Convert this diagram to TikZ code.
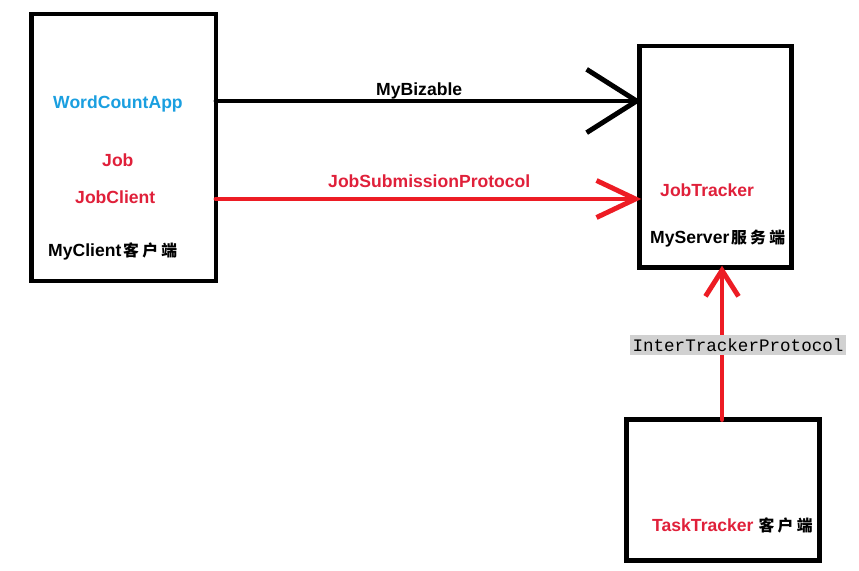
\documentclass[tikz,border=0pt]{standalone}
\usepackage{fontspec}
\setmainfont{Liberation Sans}
\setmonofont{Liberation Mono}
\newfontfamily\cjk{Noto Sans CJK SC}
\usepackage{tikz}
\usetikzlibrary{arrows.meta,calc}
\usepackage{xcolor}
\definecolor{appblue}{HTML}{1A9FE0}
\definecolor{txtred}{HTML}{E0203A}
\definecolor{arrred}{HTML}{ED1C24}
\newcommand{\kehu}{{\cjk\fontsize{13.5}{16}\selectfont 客\hspace{1mm}户\hspace{1mm}端}}
\newcommand{\fuwu}{{\cjk\fontsize{13.5}{16}\selectfont 服\hspace{1mm}务\hspace{1mm}端}}

\begin{document}
\begin{tikzpicture}[x=0.03cm, y=-0.03cm,
  box/.style={draw, line width=4.2pt, inner sep=0pt, outer sep=0pt},
  lbl/.style={font=\fontsize{15}{18}\selectfont\bfseries, inner sep=0pt, anchor=base west},
  link/.style={line width=4.2pt, line cap=round, shorten >=-1.5pt}]
  \useasboundingbox[fill=white] (0,0) rectangle (859,571);
  % the three boxes
  \node[box, minimum width=5.535cm, minimum height=8.01cm] (client) at (123.75,147.5) {};
  \node[box, minimum width=4.56cm, minimum height=6.645cm] (server) at (715.5,156.75) {};
  \node[box, minimum width=5.79cm, minimum height=4.23cm] (task) at (723,490) {};
  % texts
  \node[lbl, text=appblue] (wca) at (53,109) {WordCountApp};
  \node[lbl, text=txtred] (job) at (102,167) {Job};
  \node[lbl, text=txtred] (jobc) at (75,204) {JobClient};
  \node[lbl] (myc) at (48,257) {MyClient\hspace{0.5mm}\kehu};
  \node[lbl, text=txtred] (jt) at (660,197) {JobTracker};
  \node[lbl] (mys) at (650,244) {MyServer\hspace{0.5mm}\fuwu};
  \node[lbl] (tt) at (652,531) {\textcolor{txtred}{TaskTracker}\hspace{1.5mm}\kehu};
  % connectors
  \coordinate (biz) at (0,101);
  \coordinate (jsp) at (0,199);
  \coordinate (itp) at (722,0);
  \draw[link, -{Straight Barb[length=1.5cm, width=1.9cm]}] (client.east |- biz) -- (server.west |- biz);
  \draw[link, arrred, -{Straight Barb[length=1.17cm, width=1.11cm]}] (client.east |- jsp) -- (server.west |- jsp);
  \draw[link, arrred, -{Straight Barb[length=0.78cm, width=0.99cm]}] (task.north -| itp) -- (server.south -| itp);
  \node[lbl] (bizl) at (376,96) {MyBizable};
  \node[lbl, text=txtred] (jspl) at (328,188) {JobSubmissionProtocol};
  \node[fill=black!18, font=\fontsize{15}{18}\selectfont\ttfamily, inner xsep=2.5pt, inner ysep=0pt,
    minimum height=0.6cm] (itpl) at (738,345) {InterTrackerProtocol};
\end{tikzpicture}
\end{document}
